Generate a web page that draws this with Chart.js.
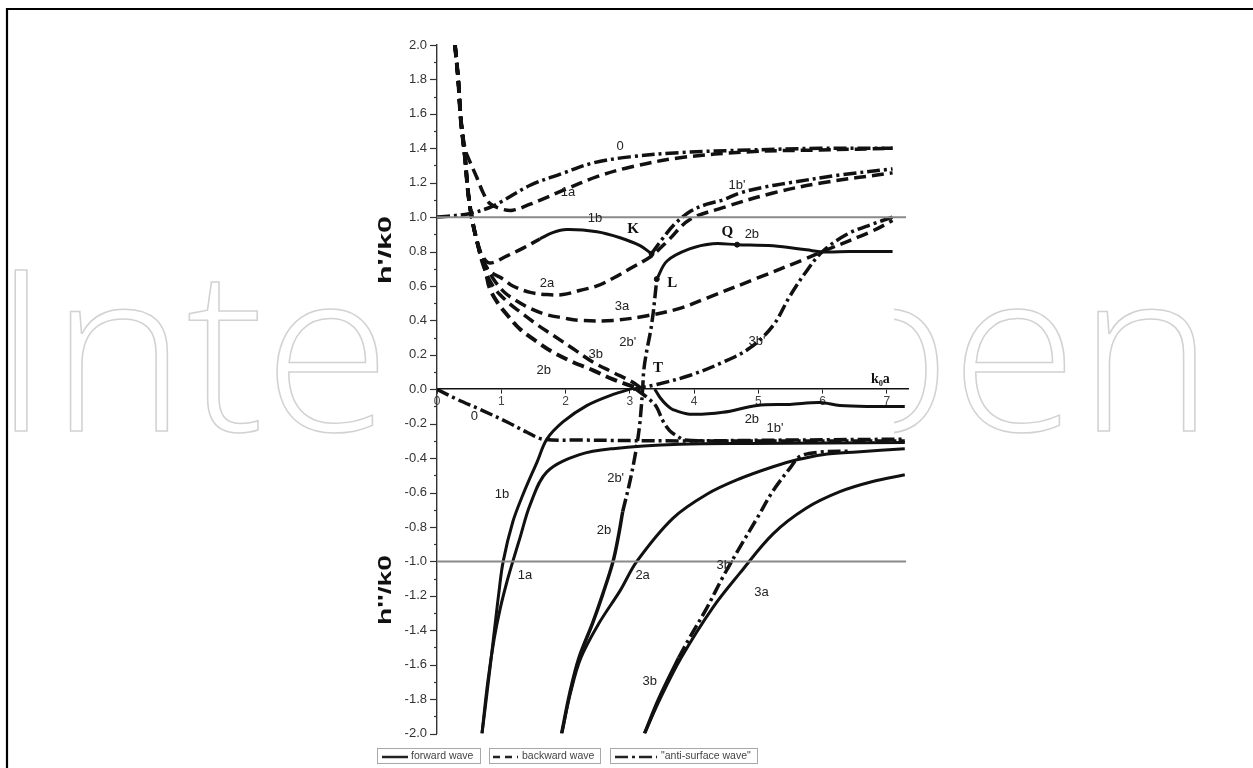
<!DOCTYPE html>
<html>
<head>
<meta charset="utf-8">
<title>Dispersion branches h'/k0 and h''/k0 versus k0a</title>
<script src="https://cdn.jsdelivr.net/npm/chart.js@4.4.1/dist/chart.umd.min.js"></script>
<style>
  html, body { margin: 0; padding: 0; background: #fff; }
  #wrap { width: 1253px; height: 768px; position: relative; }
</style>
</head>
<body>
<div id="wrap"><canvas id="c" width="1253" height="768"></canvas></div>
<script>
// ---- axis ticks ----
const xTicks = [0, 1, 2, 3, 4, 5, 6, 7];
const yMin = -2.0, yMax = 2.0, yStep = 0.2;

// ---- real part h'/k0 (upper branch) : [k0a, value] ----
const re0    = [[0,1.0],[0.5,1.02],[0.82,1.056],[0.98,1.085],[1.45,1.185],[1.96,1.255],[2.43,1.315],[3.0,1.35],[3.78,1.375],[4.87,1.39],[5.96,1.40],[7.09,1.40]];
const re1a   = [[0.28,2.0],[0.33,1.80],[0.37,1.57],[0.44,1.39],[0.48,1.35],[0.62,1.23],[0.72,1.14],[0.82,1.08],[0.98,1.05],[1.18,1.04],[1.45,1.075],[1.71,1.115],[1.96,1.155],[2.49,1.235],[3.0,1.29],[3.78,1.345],[4.87,1.38],[5.96,1.39],[7.09,1.40]];
const re1bBack = [[0.28,2.0],[0.33,1.80],[0.37,1.57],[0.44,1.33],[0.48,1.157],[0.54,1.0],[0.62,0.863],[0.70,0.78],[0.82,0.733],[1.09,0.775],[1.34,0.82],[1.60,0.873]];
const re1b   = [[1.60,0.873],[1.80,0.91],[2.02,0.928],[2.49,0.915],[2.85,0.88],[3.16,0.834],[3.34,0.787]];
const re1bp  = [[3.34,0.787],[3.5,0.87],[3.7,0.96],[3.95,1.035],[4.2,1.075],[4.45,1.10],[4.71,1.14],[5.1,1.175],[5.49,1.20],[6.27,1.245],[7.09,1.28]];
const re2a   = [[0.28,2.0],[0.33,1.80],[0.37,1.57],[0.44,1.33],[0.48,1.157],[0.54,1.0],[0.62,0.863],[0.70,0.757],[0.82,0.686],[1.03,0.64],[1.18,0.60],[1.45,0.563],[1.71,0.55],[1.96,0.55],[2.22,0.574],[2.49,0.60],[2.74,0.645],[3.0,0.70],[3.27,0.757],[3.36,0.78],[3.6,0.865],[3.93,0.985],[4.45,1.055],[5.23,1.14],[6.0,1.20],[7.09,1.257]];
const re3a   = [[0.28,2.0],[0.33,1.80],[0.37,1.57],[0.44,1.33],[0.48,1.157],[0.54,1.0],[0.62,0.863],[0.72,0.75],[0.87,0.645],[1.03,0.57],[1.18,0.527],[1.45,0.47],[1.71,0.433],[1.96,0.415],[2.22,0.40],[2.74,0.40],[3.27,0.427],[3.78,0.47],[4.2,0.53],[4.98,0.645],[5.75,0.76],[6.0,0.80],[6.78,0.92],[7.09,0.98]];
const re2b   = [[0.28,2.0],[0.33,1.80],[0.37,1.57],[0.44,1.33],[0.48,1.157],[0.54,1.0],[0.62,0.863],[0.70,0.757],[0.76,0.68],[0.82,0.587],[0.93,0.51],[1.09,0.433],[1.29,0.35],[1.56,0.275],[1.80,0.216],[2.12,0.157],[2.43,0.11],[2.74,0.057],[3.0,0.022],[3.16,0.0]];
const re3b   = [[0.28,2.0],[0.33,1.80],[0.37,1.57],[0.44,1.33],[0.48,1.157],[0.54,1.0],[0.62,0.863],[0.72,0.72],[0.87,0.60],[1.09,0.51],[1.29,0.45],[1.56,0.375],[1.80,0.315],[2.12,0.235],[2.43,0.157],[2.74,0.098],[3.05,0.04],[3.16,0.01]];
const re2bp  = [[2.89,-0.71],[3.0,-0.54],[3.09,-0.37],[3.15,-0.22],[3.18,-0.10],[3.2,0.0],[3.22,0.117],[3.27,0.235],[3.32,0.33],[3.36,0.43],[3.39,0.53],[3.42,0.64]];
const re2b2  = [[3.42,0.64],[3.58,0.745],[3.93,0.815],[4.29,0.845],[4.67,0.84],[5.23,0.833],[5.75,0.81],[6.0,0.798],[6.42,0.80],[7.09,0.80]];
const re3bp  = [[3.05,0.0],[3.42,0.028],[3.93,0.08],[4.45,0.157],[4.87,0.24],[5.23,0.37],[5.49,0.54],[5.75,0.686],[6.0,0.80],[6.38,0.90],[6.78,0.96],[7.09,1.0]];

// ---- imaginary part h''/k0 (lower branch) ----
const im0    = [[0,0],[0.31,-0.058],[0.67,-0.117],[1.09,-0.19],[1.40,-0.25],[1.65,-0.29],[2.22,-0.295],[3.78,-0.30],[5.5,-0.295],[7.28,-0.29]];
const im1a   = [[0.70,-2.0],[0.79,-1.70],[0.89,-1.45],[0.98,-1.28],[1.08,-1.13],[1.18,-1.0],[1.29,-0.865],[1.45,-0.67],[1.71,-0.48],[2.22,-0.38],[2.74,-0.345],[3.78,-0.32],[4.87,-0.315],[7.28,-0.31]];
const im1b   = [[0.70,-2.0],[0.78,-1.76],[0.90,-1.38],[0.96,-1.19],[1.03,-1.0],[1.18,-0.77],[1.34,-0.61],[1.56,-0.42],[1.71,-0.29],[1.96,-0.19],[2.33,-0.095],[2.74,-0.03],[3.05,0.005]];
const im1bp  = [[3.1,0.0],[3.31,-0.06],[3.42,-0.105],[3.51,-0.18],[3.62,-0.24],[3.73,-0.27],[3.86,-0.295],[4.5,-0.30],[7.28,-0.30]];
const im2a   = [[1.94,-2.0],[2.08,-1.76],[2.24,-1.56],[2.52,-1.36],[2.85,-1.17],[3.11,-1.0],[3.67,-0.75],[4.2,-0.61],[4.71,-0.52],[5.23,-0.45],[5.6,-0.41],[6.0,-0.38],[6.53,-0.364],[7.28,-0.346]];
const im2b   = [[1.94,-2.0],[2.07,-1.76],[2.21,-1.56],[2.42,-1.36],[2.58,-1.19],[2.74,-1.0],[2.83,-0.84],[2.89,-0.71]];
const im2b2  = [[3.39,0.0],[3.47,-0.048],[3.58,-0.094],[3.67,-0.118],[3.93,-0.145],[4.45,-0.134],[4.98,-0.094],[5.49,-0.088],[5.96,-0.077],[6.27,-0.094],[6.78,-0.10],[7.28,-0.10]];
const im3a   = [[3.23,-2.0],[3.47,-1.80],[3.80,-1.56],[4.29,-1.27],[4.71,-1.07],[5.23,-0.84],[5.75,-0.69],[6.27,-0.595],[6.78,-0.536],[7.28,-0.497]];
const im3b   = [[3.23,-2.0],[3.45,-1.80],[3.76,-1.56]];
const im3bp  = [[3.76,-1.56],[3.93,-1.445],[4.2,-1.27],[4.45,-1.09],[4.71,-0.92],[4.98,-0.75],[5.23,-0.59],[5.49,-0.46],[5.65,-0.39],[5.96,-0.365],[6.4,-0.36]];

// ---- reference levels and marked points ----
const levelPlus  = [[0,1.0],[7.3,1.0]];
const levelMinus = [[0,-1.0],[7.3,-1.0]];
const markedPts  = [[3.34,0.787],[3.42,0.64],[4.67,0.84]];

// ---- curve names placed at [k0a, value] ----
const curveNames = [
  ['0', 2.85, 1.41], ['1a', 2.04, 1.145], ['1b', 2.46, 0.99], ['1b\'', 4.67, 1.185],
  ['2a', 1.71, 0.615], ['3a', 2.88, 0.48], ['2b\'', 2.97, 0.27], ['3b', 2.47, 0.20],
  ['2b', 1.66, 0.11], ['3b\'', 4.98, 0.275], ['2b', 4.9, 0.90],
  ['0', 0.58, -0.155], ['2b', 4.9, -0.175], ['1b\'', 5.26, -0.225], ['1b', 1.01, -0.61],
  ['2b\'', 2.78, -0.52], ['2b', 2.6, -0.82], ['1a', 1.37, -1.08], ['2a', 3.2, -1.08],
  ['3b\'', 4.48, -1.025], ['3a', 5.05, -1.18], ['3b', 3.31, -1.70]
];
const pointNames = [['K', 3.05, 0.93], ['Q', 4.52, 0.91], ['L', 3.66, 0.615], ['T', 3.44, 0.12]];

const INK = '#111';
const SOLID = [];
const DASHED = [12, 6];
const DASHDOT = [13, 4, 3, 4];

function series(name, pts, dash, width) {
  return {
    label: name,
    data: pts.map(([x, y]) => ({ x, y })),
    borderColor: INK,
    borderWidth: width,
    borderDash: dash,
    pointRadius: 0,
    fill: false,
    tension: 0.35,
    borderCapStyle: 'butt'
  };
}

const datasets = [
  { label: 'level +1', data: levelPlus.map(([x, y]) => ({ x, y })), borderColor: '#8a8a8a', borderWidth: 2, pointRadius: 0 },
  { label: 'level -1', data: levelMinus.map(([x, y]) => ({ x, y })), borderColor: '#8a8a8a', borderWidth: 2, pointRadius: 0 },
  series('0', re0, DASHDOT, 3.5),
  series('1a', re1a, DASHED, 3.5),
  series('1b backward', re1bBack, DASHED, 3.5),
  series('1b', re1b, SOLID, 3),
  series('1b\'', re1bp, DASHDOT, 3.5),
  series('2a', re2a, DASHED, 3.5),
  series('3a', re3a, DASHED, 3.5),
  series('2b', re2b, DASHED, 4),
  series('3b', re3b, DASHED, 3.5),
  series('2b\'', re2bp, DASHDOT, 3.5),
  series('2b L-Q', re2b2, SOLID, 3),
  series('3b\'', re3bp, DASHDOT, 3.5),
  series('0 im', im0, DASHDOT, 3.5),
  series('1a im', im1a, SOLID, 3),
  series('1b im', im1b, SOLID, 3),
  series('1b\' im', im1bp, DASHDOT, 3.5),
  series('2a im', im2a, SOLID, 3),
  series('2b im', im2b, SOLID, 3.5),
  series('2b T', im2b2, SOLID, 3),
  series('3a im', im3a, SOLID, 3),
  series('3b im', im3b, SOLID, 3.5),
  series('3b\' im', im3bp, DASHDOT, 3.5),
  { label: 'points', data: markedPts.map(([x, y]) => ({ x, y })), showLine: false, pointRadius: 2.5, pointBackgroundColor: INK, pointBorderColor: INK }
];

// background, frame and the faint outlined lettering behind the plot
const backdrop = {
  id: 'backdrop',
  beforeDraw(chart) {
    const ctx = chart.ctx;
    ctx.save();
    ctx.fillStyle = '#fff';
    ctx.fillRect(0, 0, chart.width, chart.height);
    ctx.font = '300 226px "Open Sans", "Liberation Sans", sans-serif';
    const text = 'IntechOpen';
    const w = ctx.measureText(text).width;
    ctx.translate(-8, 431);
    ctx.scale(1222 / w, 1);
    ctx.strokeStyle = '#d2d2d2';
    ctx.lineWidth = 1.5;
    ctx.strokeText(text, 0, 0);
    ctx.restore();
    // plot panel is opaque
    ctx.save();
    ctx.fillStyle = '#fff';
    ctx.fillRect(382, 30, 512, 718);
    ctx.restore();
  },
  afterDraw(chart) {
    const ctx = chart.ctx;
    const { y } = chart.scales;
    ctx.save();
    // frame
    ctx.strokeStyle = '#000';
    ctx.lineWidth = 2.2;
    ctx.beginPath();
    ctx.moveTo(7, 768);
    ctx.lineTo(7, 9);
    ctx.lineTo(1253, 9);
    ctx.stroke();

    // y-axis major / minor ticks
    ctx.strokeStyle = '#333';
    ctx.lineWidth = 1.2;
    const left = chart.chartArea.left;
    for (let i = 0; i <= 40; i++) {
      const v = yMin + i * 0.1;
      const py = Math.round(y.getPixelForValue(v)) + 0.5;
      const len = (i % 2 === 0) ? 7 : 3;
      ctx.beginPath();
      ctx.moveTo(left - len, py);
      ctx.lineTo(left, py);
      ctx.stroke();
    }

    // axis titles
    const titles = [["h'/k0", 250, 68], ["h''/k0", 590, 70]];
    ctx.fillStyle = '#111';
    ctx.font = 'bold 18px "Liberation Sans", Arial, sans-serif';
    ctx.textAlign = 'center';
    ctx.textBaseline = 'middle';
    for (const [t, cy, len] of titles) {
      const tw = ctx.measureText(t).width;
      ctx.save();
      ctx.translate(386, cy);
      ctx.rotate(-Math.PI / 2);
      ctx.scale(len / tw, 1);
      ctx.fillText(t, 0, 0);
      ctx.restore();
    }

    // legend boxes
    const boxes = [
      { x0: 377, x1: 480, s0: 382, s1: 408, dash: SOLID, text: 'forward wave', tx: 411 },
      { x0: 489, x1: 600, s0: 493, s1: 518, dash: [7, 5], text: 'backward wave', tx: 522 },
      { x0: 610, x1: 757, s0: 615, s1: 657, dash: [13, 4, 3, 4], text: '"anti-surface wave"', tx: 661 }
    ];
    ctx.font = '10.5px "Liberation Sans", Arial, sans-serif';
    ctx.textAlign = 'left';
    for (const b of boxes) {
      ctx.setLineDash([]);
      ctx.strokeStyle = '#a8a8a8';
      ctx.lineWidth = 1;
      ctx.strokeRect(b.x0 + 0.5, 748.5, b.x1 - b.x0, 15);
      ctx.strokeStyle = '#222';
      ctx.lineWidth = 2.5;
      ctx.setLineDash(b.dash);
      ctx.beginPath();
      ctx.moveTo(b.s0, 757);
      ctx.lineTo(b.s1, 757);
      ctx.stroke();
      ctx.setLineDash([]);
      ctx.fillStyle = '#444';
      ctx.fillText(b.text, b.tx, 756);
    }
    ctx.restore();
  }
};

// names of the branches and the marked points
const namer = {
  id: 'namer',
  afterDatasetsDraw(chart) {
    const ctx = chart.ctx;
    const { x, y } = chart.scales;
    ctx.save();
    ctx.textAlign = 'center';
    ctx.textBaseline = 'middle';
    ctx.fillStyle = '#222';
    ctx.font = '13px "Liberation Sans", Arial, sans-serif';
    for (const [t, vx, vy] of curveNames) {
      ctx.fillText(t, x.getPixelForValue(vx), y.getPixelForValue(vy));
    }
    ctx.fillStyle = '#111';
    ctx.font = 'bold 15px "Liberation Serif", "Times New Roman", serif';
    for (const [t, vx, vy] of pointNames) {
      ctx.fillText(t, x.getPixelForValue(vx), y.getPixelForValue(vy));
    }
    ctx.font = 'bold 14px "Liberation Serif", serif';
    ctx.fillText('k\u2080a', x.getPixelForValue(6.9), y.getPixelForValue(0.06));
    ctx.restore();
  }
};

new Chart(document.getElementById('c'), {
  type: 'line',
  data: { datasets },
  plugins: [backdrop, namer],
  options: {
    responsive: false,
    animation: false,
    devicePixelRatio: 1,
    layout: { padding: { left: 0, top: 45, right: 345, bottom: 34.5 } },
    plugins: { legend: { display: false }, tooltip: { enabled: false } },
    scales: {
      x: {
        type: 'linear',
        min: 0,
        max: 7.33,
        position: { y: 0 },
        afterBuildTicks(s) { s.ticks = xTicks.map(v => ({ value: v })); },
        ticks: { color: '#444', font: { size: 12, family: '"Liberation Sans", Arial, sans-serif' }, padding: 1, callback: v => String(v) },
        grid: { drawOnChartArea: false, drawTicks: true, tickLength: 4, color: '#222' },
        border: { color: '#111', width: 1.6 }
      },
      y: {
        type: 'linear',
        min: yMin,
        max: yMax,
        afterFit(s) { s.width = 437; },
        ticks: {
          stepSize: yStep,
          autoSkip: false,
          color: '#333',
          padding: 10,
          font: { size: 13, family: '"Liberation Sans", Arial, sans-serif' },
          callback: v => (Math.abs(v) < 1e-9 ? 0 : v).toFixed(1)
        },
        grid: { drawOnChartArea: false, drawTicks: false },
        border: { color: '#333', width: 1.4 }
      }
    }
  }
});
</script>
</body>
</html>
